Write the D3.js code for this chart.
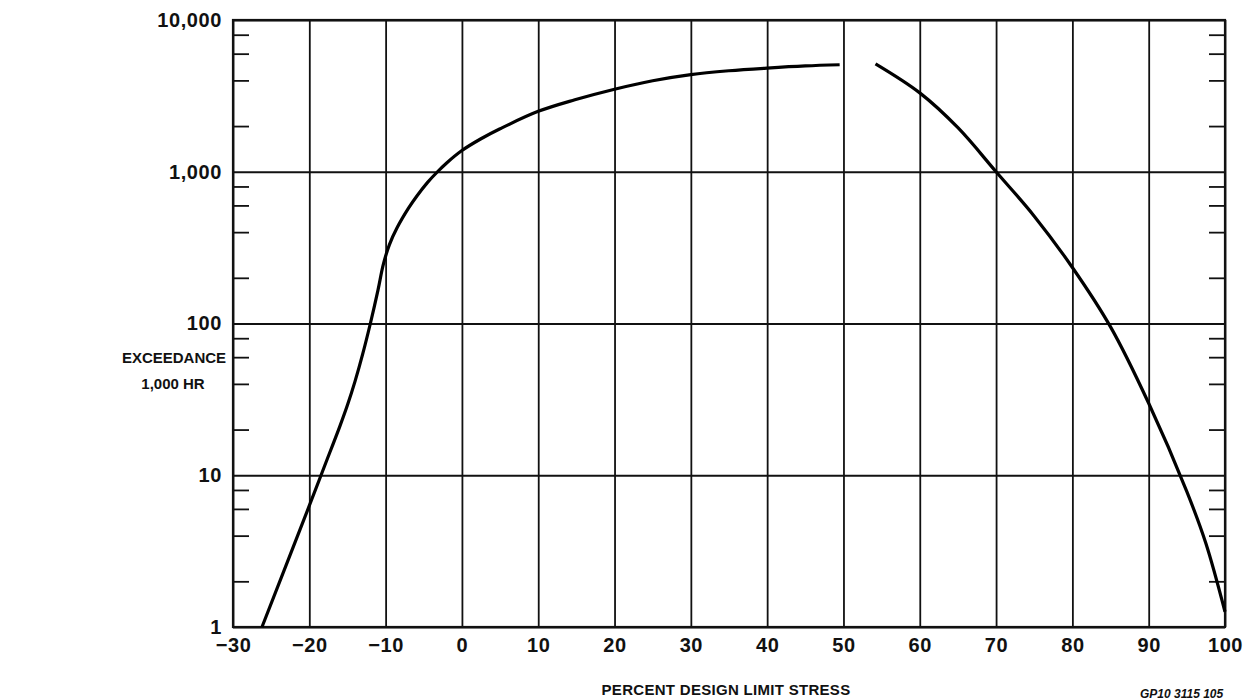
<!DOCTYPE html>
<html>
<head>
<meta charset="utf-8">
<script src="https://cdn.jsdelivr.net/npm/d3@7"></script>
<style>
  html, body { margin: 0; padding: 0; background: #fff; }
  svg { display: block; }
  text { font-family: "Liberation Sans", Arial, sans-serif; font-weight: bold; fill: #111; }
</style>
</head>
<body>
<svg id="chart"></svg>
<script>
// left branch of the curve
const STRESS_A = [-26.2, -20, -18, -16, -15, -14, -13, -12, -11, -10.3, -9.5, -8.5, -7, -5.9, -4.5, -3.2, -2, 0, 2.5, 5, 10, 14.8, 20, 25, 30, 35, 40, 45, 49.5];
const EXCEED_A = [1, 6.3, 11.5, 21, 29, 41.7, 63, 100, 166, 245, 331, 427, 575, 692, 851, 1000, 1143, 1380, 1650, 1920, 2500, 2980, 3500, 3980, 4370, 4630, 4820, 4980, 5070];

// right branch of the curve
const STRESS_B = [54.2, 60, 65, 70, 75, 80, 85, 90, 95, 97.5, 100];
const EXCEED_B = [5140, 3310, 1950, 1000, 510, 234, 95, 29.8, 7.8, 3.55, 1.26];

const X_TICKS = [-30, -20, -10, 0, 10, 20, 30, 40, 50, 60, 70, 80, 90, 100];
const Y_TICKS = [1, 10, 100, 1000, 10000];
const MINOR = [2, 4, 6, 8];

const width = 1247;
const height = 700;
const plotLeft = 233, plotRight = 1225, plotTop = 20, plotBottom = 627;

const svg = d3.select("#chart")
    .attr("width", width)
    .attr("height", height);

const x = d3.scaleLinear().domain([-30, 100]).range([plotLeft, plotRight]);
const y = d3.scaleLog().domain([1, 10000]).range([plotBottom, plotTop]);

// minor tick values inside each decade
const minorTicks = [];
Y_TICKS.slice(0, -1).forEach(d => MINOR.forEach(m => minorTicks.push(d * m)));

//Grid lines
svg.append("g")
    .attr("class", "grid")
    .attr("transform", `translate(0, ${plotBottom})`)
    .call(d3.axisBottom(x).tickValues(X_TICKS).tickSize(-(plotBottom - plotTop)).tickFormat(""));
svg.append("g")
    .attr("class", "grid")
    .attr("transform", `translate(${plotLeft}, 0)`)
    .call(d3.axisLeft(y).tickValues(Y_TICKS).tickSize(-(plotRight - plotLeft)).tickFormat(""));

//Minor ticks, pointing inward on both sides
svg.append("g")
    .attr("class", "grid")
    .attr("transform", `translate(${plotLeft}, 0)`)
    .call(d3.axisRight(y).tickValues(minorTicks).tickSize(16).tickFormat(""));
svg.append("g")
    .attr("class", "grid")
    .attr("transform", `translate(${plotRight}, 0)`)
    .call(d3.axisLeft(y).tickValues(minorTicks).tickSize(16).tickFormat(""));

svg.selectAll(".grid .domain").remove();
svg.selectAll(".grid line")
    .attr("stroke", "#111")
    .attr("stroke-width", 1.8);

//Frame
svg.append("rect")
    .attr("x", plotLeft)
    .attr("y", plotTop)
    .attr("width", plotRight - plotLeft)
    .attr("height", plotBottom - plotTop)
    .attr("fill", "none")
    .attr("stroke", "#111")
    .attr("stroke-width", 2.2);

//Tick labels
const yLabels = svg.append("g")
    .attr("transform", `translate(${plotLeft}, 0)`)
    .call(d3.axisLeft(y).tickValues(Y_TICKS).tickSize(0).tickPadding(11).tickFormat(d3.format(",")));
const xLabels = svg.append("g")
    .attr("transform", `translate(0, ${plotBottom})`)
    .call(d3.axisBottom(x).tickValues(X_TICKS).tickSize(0).tickPadding(11).tickFormat(d3.format("d")));
[yLabels, xLabels].forEach(g => {
    g.select(".domain").remove();
    g.selectAll("text")
        .attr("fill", "#111")
        .style("font-family", '"Liberation Sans", Arial, sans-serif')
        .style("font-weight", "bold")
        .style("font-size", "20px")
        .style("letter-spacing", "0.6px");
});

//Curves
const line = d3.line()
    .x(d => x(d[0]))
    .y(d => y(d[1]))
    .curve(d3.curveCatmullRom.alpha(0.5));

[[STRESS_A, EXCEED_A], [STRESS_B, EXCEED_B]].forEach(([xs, ys]) => {
    svg.append("path")
        .datum(xs.map((v, i) => [v, ys[i]]))
        .attr("d", line)
        .attr("fill", "none")
        .attr("stroke", "#000")
        .attr("stroke-width", 3.2)
        .attr("stroke-linecap", "butt");
});

//Axis titles
svg.append("text")
    .attr("x", 174)
    .attr("y", 363)
    .attr("text-anchor", "middle")
    .style("font-size", "15px")
    .text("EXCEEDANCE");
svg.append("text")
    .attr("x", 173)
    .attr("y", 389)
    .attr("text-anchor", "middle")
    .style("font-size", "15px")
    .text("1,000 HR");
svg.append("text")
    .attr("x", 726)
    .attr("y", 695)
    .attr("text-anchor", "middle")
    .style("font-size", "15px")
    .style("letter-spacing", "0.3px")
    .text("PERCENT DESIGN LIMIT STRESS");
svg.append("text")
    .attr("x", 1140)
    .attr("y", 698)
    .style("font-size", "12px")
    .style("font-style", "italic")
    .text("GP10 3115 105");
</script>
</body>
</html>
